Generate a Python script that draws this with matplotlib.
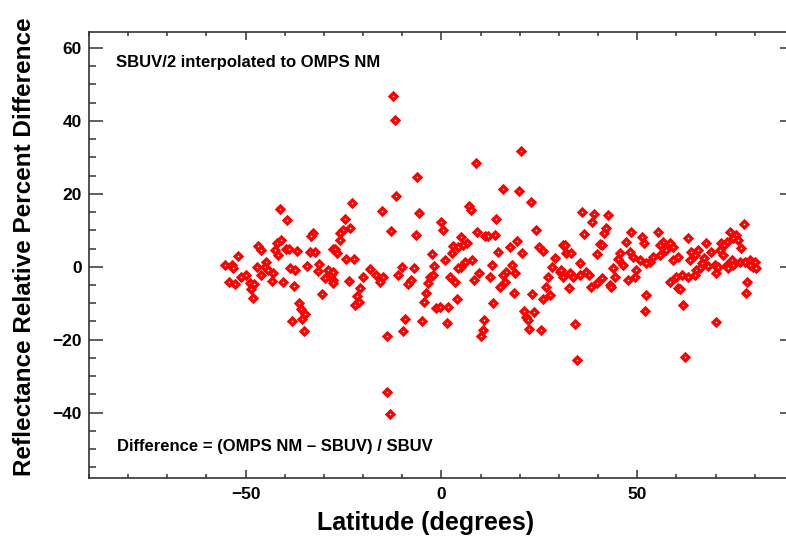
import matplotlib
matplotlib.use('Agg')
import matplotlib.pyplot as plt
from matplotlib.ticker import MultipleLocator

plt.rcParams['font.family'] = ['Liberation Sans', 'DejaVu Sans']
plt.rcParams['font.weight'] = 'bold'

# latitude (degrees) and reflectance relative percent difference
lat = [-41.2, -39.5, -32.8, -33.4, -40.9, -41.9, -46.8, -46.2, -39.6, -39.0,
       -42.6, -41.7, -36.9, -33.6, -32.4, -27.7, -51.9, -55.2, -53.6, -53.2,
       -47.2, -44.7, -45.1, -44.3, -38.7, -37.5, -34.3, -31.3, -31.5, -29.0,
       -28.1, -29.8, -54.3, -52.6, -51.1, -49.8, -46.0, -43.0, -43.3, -49.0,
       -47.9, -48.7, -40.4, -37.7, -48.1, -30.6, -36.4, -35.9, -34.9, -35.6,
       -38.2, -35.2, -27.7,
       -6.2, -11.5, -22.9, -15.1, -5.7, -24.7, -25.1, -23.4, -26.0, 0.0,
       0.4, -12.9, -6.6, -26.0, -27.2, -26.7, -24.3, -22.4, -2.3, 0.8,
       -1.8, -27.8, -27.8, -18.3, -20.0, -16.6, -14.9, -15.8, -10.2, -11.1,
       -7.1, -7.7, -8.5, -3.0, -3.4, -2.1, -23.7, -20.7, -21.6, -21.0,
       -22.1, -4.0, -4.5, -1.3, -0.4, 1.7, -9.3, -4.9, 1.3, -9.8,
       -14.0,
       20.3, 8.8, 15.7, 19.7, 22.8, 7.0, 7.5, 14.0, 24.1, 9.1,
       11.1, 11.9, 13.6, 4.9, 6.5, 5.5, 3.0, 4.2, 2.6, 19.3,
       17.6, 14.5, 20.6, 24.8, 25.9, 31.1, 7.7, 5.9, 5.1, 4.2,
       12.8, 9.6, 17.9, 16.6, 15.7, 18.7, 14.9, 16.2, 2.1, 3.4,
       8.3, 12.3, 28.9, 28.1, 30.2, 31.1, 27.2, 26.8, 27.7, 18.5,
       23.2, 25.8, 4.0, 13.2, 21.0, 21.7, 22.1, 23.6, 10.9, 10.6,
       10.0, 22.4, 25.4,
       35.9, 38.9, 38.5, 42.5, 36.3, 42.0, 41.4, 48.5, 51.1, 51.7,
       55.3, 47.2, 40.4, 41.1, 31.5, 56.6, 58.3, 55.7, 57.3, 59.1,
       31.9, 33.2, 39.8, 45.5, 45.1, 46.4, 48.1, 48.9, 50.6, 54.0,
       53.2, 52.3, 55.7, 35.5, 59.1, 60.4, 30.6, 32.8, 33.6, 35.3,
       37.0, 37.7, 43.8, 44.3, 49.8, 49.4, 47.7, 40.9, 39.6, 38.3,
       43.0, 43.4, 32.6, 58.3, 60.0, 60.4, 52.3, 52.0, 34.2, 34.6,
       77.2, 63.0, 73.6, 75.3, 74.5, 75.7, 76.6, 67.5, 71.5, 72.8,
       72.2, 63.8, 65.5, 64.7, 63.4, 68.9, 71.1, 71.9, 67.1, 66.4,
       68.1, 69.8, 70.6, 74.1, 72.8, 73.2, 74.5, 76.2, 77.5, 78.8,
       80.0, 79.6, 80.4, 78.8, 66.0, 65.1, 64.7, 63.0, 61.3, 70.0,
       78.0, 77.7, 60.9, 61.8, 70.2, 62.2,
       -12.5, -11.9, -13.8, -13.2]

diff = [15.7, 12.7, 9.3, 8.4, 7.3, 6.4, 5.7, 4.5, 4.9, 4.8,
        4.6, 3.2, 4.2, 4.1, 4.0, 4.8, 3.0, 0.5, 0.4, -0.4,
        -0.1, 1.4, 0.0, -0.9, -0.3, -0.9, 0.3, 0.7, -1.2, -0.9,
        -2.3, -3.2, -4.2, -4.7, -2.7, -2.3, -2.3, -1.8, -3.8, -4.5,
        -4.7, -6.2, -4.2, -5.2, -8.5, -7.6, -9.9, -11.6, -13.0, -14.4,
        -14.9, -17.6, -3.6,
        24.7, 19.4, 17.5, 15.3, 14.6, 13.2, 10.1, 10.5, 9.3, 12.3,
        10.1, 9.9, 8.8, 7.3, 5.0, 3.8, 2.1, 2.1, 3.6, 1.8,
        0.2, -1.4, -4.4, -0.7, -2.7, -2.3, -2.9, -4.1, -0.1, -2.3,
        -0.4, -3.5, -4.7, -2.7, -4.4, -2.3, -3.8, -5.9, -8.0, -9.6,
        -10.5, -7.3, -9.6, -11.4, -11.0, -11.0, -14.3, -15.0, -15.5, -17.6,
        -19.0,
        31.6, 28.5, 21.4, 20.8, 17.7, 16.6, 15.5, 13.2, 10.2, 9.6,
        8.5, 8.5, 8.8, 8.2, 6.4, 5.9, 5.7, 5.5, 3.7, 7.0,
        5.5, 4.0, 3.7, 5.5, 4.3, 5.9, 1.8, 1.4, 0.0, -0.4,
        0.5, -1.6, 0.5, -1.4, -2.3, -1.8, -5.5, -4.1, -2.7, -4.1,
        -3.5, -2.7, 2.3, 0.0, -1.4, -2.7, -2.7, -5.5, -7.8, -7.1,
        -7.6, -8.9, -8.8, -10.0, -12.1, -13.7, -14.6, -12.3, -14.6, -17.2,
        -18.9, -17.1, -17.3,
        15.0, 14.4, 12.4, 14.2, 8.9, 10.5, 9.2, 9.6, 8.2, 6.6,
        9.4, 6.8, 6.2, 5.9, 5.9, 6.8, 6.4, 5.9, 4.6, 5.5,
        3.7, 3.7, 3.5, 3.7, 2.0, 0.5, 4.1, 2.7, 1.8, 2.7,
        1.4, 0.9, 3.2, 1.1, 1.8, 2.7, -0.9, -1.8, -2.7, -2.3,
        -1.4, -2.3, -0.3, -2.7, -0.9, -2.7, -3.5, -3.2, -4.5, -5.5,
        -5.0, -5.6, -5.8, -4.1, -2.7, -5.9, -7.8, -12.1, -15.7, -25.6,
        11.6, 7.9, 9.6, 8.7, 7.8, 7.3, 5.2, 6.6, 6.6, 6.8,
        5.9, 4.1, 4.6, 3.2, 1.8, 4.1, 4.6, 3.2, 2.3, 0.9,
        0.2, 0.5, 0.0, 1.8, 0.5, -0.4, 0.5, 1.4, 1.4, 1.8,
        1.4, 0.0, -0.4, 0.5, -0.4, -0.9, -2.3, -2.7, -2.3, -1.8,
        -4.3, -7.3, -6.2, -10.6, -15.1, -24.7,
        46.8, 40.1, -34.2, -40.4]

fig = plt.figure(figsize=(7.86, 5.43), dpi=100)
ax = fig.add_axes([0.1132, 0.1203, 0.8969, 0.8199])

ax.plot(lat, diff, linestyle='none', marker='D', markersize=3.4,
        markerfacecolor='white', markeredgecolor='red', markeredgewidth=2.4)

ax.set_xlim(-90, 90)
ax.set_ylim(-57.8, 64.2)

ax.xaxis.set_major_locator(MultipleLocator(50))
ax.xaxis.set_minor_locator(MultipleLocator(10))
ax.yaxis.set_major_locator(MultipleLocator(20))
ax.yaxis.set_minor_locator(MultipleLocator(5))

for s in ax.spines.values():
    s.set_linewidth(1.2)
    s.set_color('#333333')

ax.tick_params(axis='x', which='major', direction='in', length=5.5, width=1.1,
               top=True, pad=7, labelsize=12.5, color='#333333')
ax.tick_params(axis='x', which='minor', direction='in', length=3, width=1.1,
               top=True, color='#333333')
ax.tick_params(axis='y', which='major', direction='in', length=10, width=1.1,
               right=True, pad=5, labelsize=12.5, color='#333333')
ax.tick_params(axis='y', which='minor', direction='in', length=5, width=1.1,
               right=True, color='#333333')

ax.set_xlabel('Latitude (degrees)', fontsize=18, fontweight='bold')
ax.xaxis.set_label_coords(0.477, -0.075)
ax.set_ylabel('Reflectance Relative Percent Difference', fontsize=17.5,
              fontweight='bold')
ax.yaxis.set_label_coords(-0.075, 0.518)

ax.text(0.0383, 0.923, 'SBUV/2 interpolated to OMPS NM', transform=ax.transAxes,
        fontsize=12, fontweight='bold', va='baseline', ha='left')
ax.text(0.0393, 0.0606, 'Difference = (OMPS NM \u2013 SBUV) / SBUV',
        transform=ax.transAxes, fontsize=12, fontweight='bold',
        va='baseline', ha='left')

fig.savefig('out.png', dpi=100)
